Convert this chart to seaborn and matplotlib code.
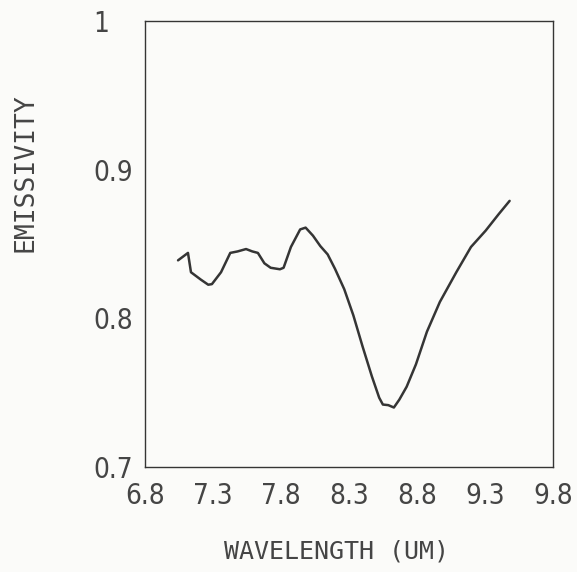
import matplotlib
matplotlib.use("Agg")
import matplotlib.pyplot as plt
import seaborn as sns
import pandas as pd

wavelength = [7.043, 7.116, 7.138, 7.211, 7.265, 7.292, 7.359, 7.427, 7.481, 7.543,
              7.589, 7.630, 7.678, 7.724, 7.792, 7.819, 7.873, 7.941, 7.981, 8.035,
              8.089, 8.143, 8.197, 8.265, 8.332, 8.400, 8.468, 8.522, 8.549, 8.589,
              8.630, 8.670, 8.724, 8.792, 8.873, 8.968, 9.089, 9.197, 9.305, 9.400, 9.481]
emissivity = [0.839, 0.844, 0.831, 0.826, 0.8226, 0.823, 0.831, 0.844, 0.845, 0.8466,
              0.845, 0.844, 0.837, 0.834, 0.833, 0.834, 0.848, 0.8598, 0.861, 0.8556,
              0.8486, 0.843, 0.8333, 0.8196, 0.802, 0.781, 0.761, 0.7466, 0.742, 0.7416,
              0.740, 0.7453, 0.754, 0.769, 0.791, 0.811, 0.831, 0.848, 0.859, 0.870, 0.879]
x_ticks = [6.8, 7.3, 7.8, 8.3, 8.8, 9.3, 9.8]
x_tick_labels = ["6.8", "7.3", "7.8", "8.3", "8.8", "9.3", "9.8"]
y_ticks = [0.7, 0.8, 0.9, 1.0]
y_tick_labels = ["0.7", "0.8", "0.9", "1"]

sns.set_style("white")
plt.rcParams['font.family'] = ['DejaVu Sans']
plt.rcParams['font.stretch'] = 'condensed'

ink = "#353535"
txt = "#454545"
bg = "#fbfbf9"

fig = plt.figure(figsize=(5.77, 5.72), dpi=100, facecolor=bg)
ax = fig.add_axes([0.2513, 0.1836, 0.9584 - 0.2513, 0.9633 - 0.1836])
ax.set_facecolor(bg)

df = pd.DataFrame({"wavelength": wavelength, "emissivity": emissivity})
sns.lineplot(data=df, x="wavelength", y="emissivity", ax=ax, color=ink,
             linewidth=1.8, sort=False)

ax.set_xlim(6.8, 9.8)
ax.set_ylim(0.7, 1.0)
ax.set_xticks(x_ticks)
ax.set_xticklabels(x_tick_labels)
ax.set_yticks(y_ticks)
ax.set_yticklabels(y_tick_labels)
ax.set_xlabel("")
ax.set_ylabel("")

for s in ax.spines.values():
    s.set_color(ink)
    s.set_linewidth(1.0)

ax.tick_params(axis="x", direction="inout", length=6, width=1.0, color=ink,
               labelsize=20, labelcolor=txt, pad=8)
ax.tick_params(axis="y", direction="in", length=6, width=1.0, color=ink,
               labelsize=20, labelcolor=txt, pad=37)
for lab in ax.get_yticklabels():
    lab.set_horizontalalignment("left")

fig.text(336 / 577, 1 - 552 / 572, "WAVELENGTH (UM)", ha="center", va="center",
         fontsize=18, color=txt, family=["DejaVu Sans Mono"], stretch="normal")
fig.text(26 / 577, 1 - 173 / 572, "EMISSIVITY", ha="center", va="center",
         rotation=90, fontsize=19, color=txt, family=["DejaVu Sans Mono"],
         stretch="normal")

fig.savefig("out.png", dpi=100, facecolor=bg)
